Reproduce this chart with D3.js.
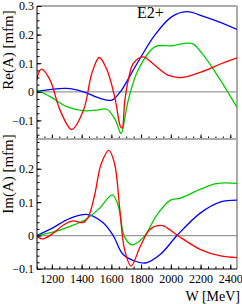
<!DOCTYPE html>
<html>
<head>
<meta charset="utf-8">
<script src="https://cdn.jsdelivr.net/npm/d3@7"></script>
<style>
  body { margin: 0; background: #fff; }
  text { font-family: "Liberation Serif", "DejaVu Serif", serif; fill: #000; }
</style>
</head>
<body>
<svg class="chart"></svg>
<script>
// W [MeV] sample points and amplitudes
var reW    = [1100, 1114, 1132, 1188, 1255, 1334, 1413, 1469, 1519, 1571, 1627, 1660, 1672, 1691, 1714, 1748, 1813, 1892, 1982, 2072, 2207, 2342, 2445];
var reRed  = [0.041, 0.07, 0.079, 0.041, -0.064, -0.132, -0.064, 0.065, 0.12, 0.076, -0.029, -0.12, -0.127, -0.029, 0.041, 0.099, 0.122, 0.093, 0.058, 0.05, 0.07, 0.099, 0.119];
var reBlueW = [1100, 1300, 1413, 1525, 1604, 1660, 1667, 1780, 1892, 2005, 2106, 2229, 2342, 2445];
var reBlue  = [0.002, 0.012, 0, -0.023, -0.029, 0, 0.004, 0.105, 0.198, 0.262, 0.28, 0.262, 0.241, 0.218];
var reGreenW = [1100, 1188, 1300, 1413, 1503, 1571, 1627, 1660, 1667, 1714, 1780, 1892, 2005, 2140, 2207, 2320, 2445];
var reGreen  = [0.007, -0.017, -0.052, -0.066, -0.064, -0.061, -0.099, -0.143, -0.145, -0.029, 0.076, 0.157, 0.161, 0.169, 0.136, 0.052, -0.055];

var imRedW = [1100, 1105, 1138, 1206, 1273, 1341, 1408, 1442, 1487, 1532, 1584, 1622, 1656, 1689, 1733, 1795, 1863, 1942, 2043, 2200, 2335, 2445];
var imRed  = [-0.002, -0.004, -0.010, 0.006, 0.030, 0.044, 0.039, 0.053, 0.12, 0.215, 0.255, 0.215, 0.082, -0.042, -0.091, -0.032, 0.02, 0.030, 0.001, -0.042, -0.061, -0.066];
var imBlueW = [1100, 1206, 1318, 1442, 1543, 1611, 1678, 1750, 1829, 1930, 2043, 2200, 2335, 2445];
var imBlue  = [0, 0.023, 0.051, 0.063, 0.039, 0.001, -0.056, -0.075, -0.082, -0.056, 0.001, 0.068, 0.101, 0.106];
var imGreenW = [1100, 1206, 1318, 1431, 1521, 1606, 1645, 1689, 1739, 1818, 1908, 1998, 2065, 2200, 2313, 2445];
var imGreen  = [0, 0.010, 0.027, 0.049, 0.082, 0.122, 0.091, -0.004, -0.028, -0.004, 0.063, 0.106, 0.112, 0.139, 0.156, 0.156];

var xTicks = [1200, 1400, 1600, 1800, 2000, 2200, 2400];
var reTicks = [-0.1, 0, 0.1, 0.2, 0.3];
var imTicks = [-0.1, 0, 0.1, 0.2];

var width = 242, height = 304;
var left = 37, right = 237;

var svg = d3.select(".chart").attr("width", width).attr("height", height);

var x = d3.scaleLinear().domain([1100, 2445]).range([left, right]);

var panels = [
    { top: 6, bottom: 139, domain: [-0.165, 0.3], ticks: reTicks, minor: 0.025, label: "Re(A) [mfm]", labelY: 50,
      series: [[reBlueW, reBlue, "#0000ff"], [reGreenW, reGreen, "#00cc00"], [reW, reRed, "#ff0000"]] },
    { top: 139, bottom: 269, domain: [-0.1, 0.289], ticks: imTicks, minor: 0.02, label: "Im(A) [mfm]", labelY: 174,
      series: [[imBlueW, imBlue, "#0000ff"], [imGreenW, imGreen, "#00cc00"], [imRedW, imRed, "#ff0000"]] }
];

function fmt(v) {
    if (Math.abs(v) < 1e-9) return "0";
    return (v < 0 ? "\u2212" : "") + Math.abs(v);
}

panels.forEach(function(p, k) {
    var y = d3.scaleLinear().domain(p.domain).range([p.bottom, p.top]);
    var g = svg.append("g");

    g.append("clipPath").attr("id", "clip" + k)
        .append("rect").attr("x", left).attr("y", p.top)
        .attr("width", right - left).attr("height", p.bottom - p.top);

    // grey frame on top and right
    g.append("line").attr("x1", left).attr("x2", right).attr("y1", p.top).attr("y2", p.top)
        .attr("stroke", "#aaa").attr("stroke-width", 2);
    g.append("line").attr("x1", right).attr("x2", right).attr("y1", p.top).attr("y2", p.bottom)
        .attr("stroke", "#aaa").attr("stroke-width", 2);

    // zero line
    g.append("line").attr("x1", left).attr("x2", right).attr("y1", y(0)).attr("y2", y(0))
        .attr("stroke", "#999").attr("stroke-width", 1.3);

    // curves
    var line = d3.line()
        .x(function(d) { return x(d[0]); })
        .y(function(d) { return y(d[1]); })
        .curve(d3.curveCatmullRom.alpha(0.5));

    p.series.forEach(function(s) {
        g.append("path")
            .datum(s[0].map(function(w, i) { return [w, s[1][i]]; }))
            .attr("clip-path", "url(#clip" + k + ")")
            .attr("fill", "none")
            .attr("stroke", s[2])
            .attr("stroke-width", 1.3)
            .attr("d", line);
    });

    // left axis, ticks pointing inward
    var yStart = Math.ceil(p.domain[0] / p.minor) * p.minor;
    var yMinor = d3.range(yStart, p.domain[1] + 1e-9, p.minor);
    g.append("g").attr("transform", "translate(" + left + ",0)")
        .call(d3.axisRight(y).tickValues(yMinor).tickSize(2.5).tickFormat(""))
        .call(function(a) { a.select(".domain").remove(); });
    var ya = g.append("g").attr("transform", "translate(" + left + ",0)")
        .call(d3.axisRight(y).tickValues(p.ticks).tickSize(4.5).tickFormat(fmt));
    ya.select(".domain").remove();
    ya.selectAll("text").attr("x", -3).attr("text-anchor", "end")
        .style("font-size", "12px").style("font-family", "Liberation Serif");
    g.append("line").attr("x1", left).attr("x2", left).attr("y1", p.top).attr("y2", p.bottom)
        .attr("stroke", "#000").attr("stroke-width", 1);

    // bottom axis, ticks pointing up
    var xMinor = d3.range(1100, 2446, 50);
    g.append("g").attr("transform", "translate(0," + p.bottom + ")")
        .call(d3.axisTop(x).tickValues(xMinor).tickSize(2.5).tickFormat(""))
        .call(function(a) { a.select(".domain").remove(); });
    var xa = g.append("g").attr("transform", "translate(0," + p.bottom + ")")
        .call(d3.axisTop(x).tickValues(xTicks).tickSize(4.5).tickFormat(k === 1 ? d3.format("d") : ""));
    xa.select(".domain").remove();
    xa.selectAll("text").attr("y", 14).attr("dy", 0)
        .style("font-size", "12px").style("font-family", "Liberation Serif");
    g.append("line").attr("x1", left).attr("x2", right).attr("y1", p.bottom).attr("y2", p.bottom)
        .attr("stroke", "#000").attr("stroke-width", 1);

    // y title
    g.append("text")
        .attr("transform", "translate(13," + p.labelY + ") rotate(-90)")
        .attr("text-anchor", "middle")
        .style("font-size", "15px")
        .text(p.label);
});

svg.append("text").attr("x", 137).attr("y", 18).style("font-size", "16px").text("E2+");
svg.append("text").attr("x", 240).attr("y", 301).attr("text-anchor", "end")
    .style("font-size", "14px").text("W [MeV]");
</script>
</body>
</html>
